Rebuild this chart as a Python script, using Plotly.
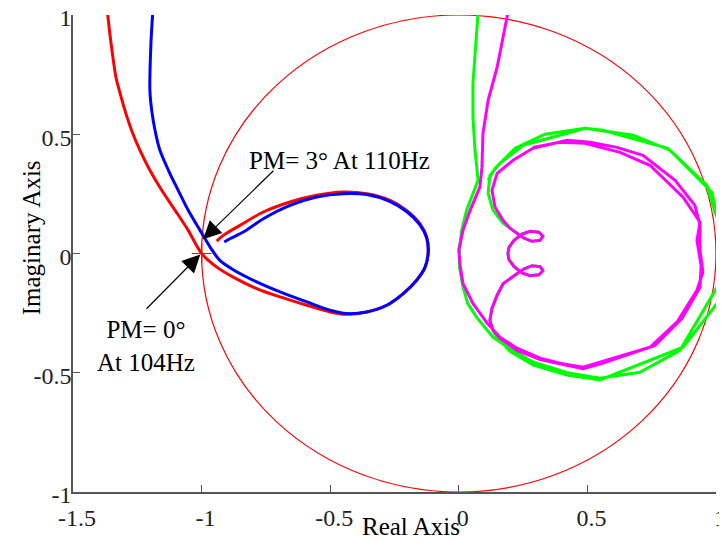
import plotly.graph_objects as go

# ---------------- data ----------------
red_re = [-1.366, -1.352, -1.333, -1.320, -1.298, -1.272, -1.240, -1.201, -1.155, -1.103,
          -1.052, -1.000, -0.941, -0.877, -0.786, -0.695, -0.591, -0.501, -0.436, -0.358,
          -0.280, -0.216, -0.164, -0.131, -0.119, -0.125, -0.151, -0.203, -0.267, -0.358,
          -0.449, -0.553, -0.656, -0.760, -0.851, -0.916, -0.941]
red_im = [1.01, 0.880, 0.739, 0.684, 0.600, 0.516, 0.433, 0.349, 0.265, 0.181,
          0.097, 0.000, -0.057, -0.099, -0.147, -0.182, -0.217, -0.245, -0.255, -0.245,
          -0.217, -0.168, -0.112, -0.057, 0.006, 0.069, 0.125, 0.181, 0.223, 0.251,
          0.258, 0.244, 0.216, 0.174, 0.118, 0.076, 0.052]

blue_re = [-1.190, -1.197, -1.201, -1.194, -1.181, -1.162, -1.129, -1.091, -1.052, -1.006,
           -0.967, -0.929, -0.877, -0.786, -0.695, -0.591, -0.501, -0.436, -0.358, -0.280,
           -0.216, -0.164, -0.131, -0.119, -0.125, -0.151, -0.203, -0.267, -0.358, -0.449,
           -0.553, -0.656, -0.760, -0.838, -0.890, -0.912]
blue_im = [1.01, 0.880, 0.684, 0.600, 0.516, 0.433, 0.349, 0.265, 0.181, 0.097,
           0.027, -0.029, -0.068, -0.119, -0.161, -0.203, -0.238, -0.252, -0.245, -0.217,
           -0.168, -0.112, -0.057, 0.003, 0.066, 0.120, 0.176, 0.218, 0.247, 0.251,
           0.237, 0.202, 0.146, 0.090, 0.062, 0.048]

loops_re = [0.199, 0.226, 0.254, 0.285, 0.316, 0.327, 0.312, 0.277, 0.246, 0.215, 0.195, 0.191,
            0.195, 0.215, 0.246, 0.277, 0.312, 0.327, 0.316, 0.285, 0.254, 0.226, 0.199, 0.172,
            0.149, 0.129, 0.121, 0.133]
loops_im = [0.106, 0.085, 0.064, 0.051, 0.055, 0.072, 0.089, 0.093, 0.081, 0.055, 0.026, 0.000,
            -0.026, -0.055, -0.081, -0.093, -0.089, -0.072, -0.055, -0.051, -0.064, -0.085, -0.106, -0.127,
            -0.175, -0.230, -0.280, -0.322]

green_re = ([0.075, 0.063, 0.055, 0.055, 0.063, 0.075,
             0.055, 0.030, 0.012, 0.002, 0.003, 0.016, 0.035, 0.071, 0.133, 0.199, 0.288, 0.421, 0.549,
             0.704, 0.860, 1.004, 1.060,
             1.004, 0.984, 0.821, 0.678, 0.491, 0.393, 0.250, 0.160, 0.121, 0.114, 0.133, 0.172]
            + loops_re +
            [0.149, 0.199, 0.290, 0.421, 0.549, 0.771, 0.872, 1.004, 1.060,
             0.996, 0.965, 0.813, 0.561, 0.491, 0.335, 0.219, 0.141, 0.114])
green_im = ([1.01, 0.852, 0.714, 0.571, 0.433, 0.307,
             0.252, 0.180, 0.100, 0.020, -0.060, -0.140, -0.210, -0.270, -0.351, -0.400, -0.455, -0.500, -0.523,
             -0.498, -0.406, -0.142, 0.000,
             0.160, 0.257, 0.433, 0.496, 0.525, 0.496, 0.454, 0.378, 0.328, 0.252, 0.181, 0.127]
            + loops_im +
            [-0.351, -0.410, -0.468, -0.510, -0.530, -0.435, -0.393, -0.209, 0.000,
             0.173, 0.286, 0.441, 0.517, 0.525, 0.500, 0.441, 0.357, 0.307])

magenta_re = ([0.191, 0.149, 0.114, 0.094, 0.090, 0.082,
               0.044, 0.016, 0.000, 0.005, 0.016, 0.055, 0.110, 0.160, 0.226, 0.316, 0.393, 0.483,
               0.549, 0.743, 0.848, 0.926, 0.949, 0.938, 0.938, 0.918, 0.841, 0.716, 0.615, 0.510,
               0.421, 0.288, 0.211, 0.149, 0.129, 0.141, 0.172]
              + loops_re +
              [0.160, 0.226, 0.316, 0.483, 0.549, 0.763, 0.868, 0.938, 0.942, 0.926, 0.938, 0.872,
               0.743, 0.627, 0.491, 0.393, 0.288])
magenta_im = ([1.01, 0.781, 0.642, 0.504, 0.362, 0.278,
               0.181, 0.097, 0.013, -0.050, -0.125, -0.209, -0.292, -0.351, -0.397, -0.439, -0.460, -0.477,
               -0.456, -0.393, -0.288, -0.154, -0.079, 0.013, 0.118, 0.202, 0.307, 0.412, 0.445, 0.466,
               0.475, 0.441, 0.391, 0.336, 0.265, 0.194, 0.139]
              + loops_im +
              [-0.355, -0.406, -0.445, -0.483, -0.464, -0.385, -0.272, -0.142, -0.050, 0.055, 0.131, 0.236,
               0.370, 0.424, 0.462, 0.466, 0.445])

critical_re = [-1.0]
critical_im = [0.0]

x_ticks = [-1.5, -1, -0.5, 0, 0.5, 1]
x_labels = ["-1.5", "-1", "-0.5", "0", "0.5", "1"]
y_ticks = [-1, -0.5, 0, 0.5, 1]
y_labels = ["-1", "-0.5", "0", "0.5", "1"]

FONT = "Liberation Serif, Times New Roman, serif"

fig = go.Figure()
fig.add_trace(go.Scatter(x=green_re, y=green_im, mode="lines",
                         line=dict(color="#00FF00", width=3), hoverinfo="skip"))
fig.add_trace(go.Scatter(x=magenta_re, y=magenta_im, mode="lines",
                         line=dict(color="#FF00FF", width=3), hoverinfo="skip"))
fig.add_trace(go.Scatter(x=red_re, y=red_im, mode="lines",
                         line=dict(color="#FF0000", width=3, shape="spline", smoothing=0.8),
                         hoverinfo="skip"))
fig.add_trace(go.Scatter(x=blue_re, y=blue_im, mode="lines",
                         line=dict(color="#0000FF", width=3, shape="spline", smoothing=0.8),
                         hoverinfo="skip"))
fig.add_trace(go.Scatter(x=critical_re, y=critical_im, mode="markers",
                         marker=dict(symbol="cross-thin", size=14,
                                     line=dict(color="#FF0000", width=1.2)),
                         hoverinfo="skip"))

# unit circle
fig.add_shape(type="circle", xref="x", yref="y", x0=-1, x1=1, y0=-1, y1=1,
              line=dict(color="#FF0000", width=1.2), layer="below")

# annotations with arrows
fig.add_annotation(x=-0.994, y=0.060, ax=-0.715, ay=0.353, xref="x", yref="y",
                   axref="x", ayref="y", text="", showarrow=True,
                   arrowhead=2, arrowsize=3.0, arrowwidth=1.2, arrowcolor="black")
fig.add_annotation(x=-1.005, y=-0.004, ax=-1.220, ay=-0.238, xref="x", yref="y",
                   axref="x", ayref="y", text="", showarrow=True,
                   arrowhead=2, arrowsize=3.0, arrowwidth=1.2, arrowcolor="black")
fig.add_annotation(x=-0.822, y=0.391, xref="x", yref="y", text="PM= 3° At 110Hz",
                   showarrow=False, xanchor="left", yanchor="middle",
                   font=dict(family=FONT, size=25, color="black"))
fig.add_annotation(x=-1.218, y=-0.387, xref="x", yref="y", text="PM= 0°<br>At 104Hz",
                   showarrow=False, xanchor="center", yanchor="middle", align="center",
                   font=dict(family=FONT, size=25, color="black"))

# axis titles
fig.add_annotation(x=0.526, y=-0.073, xref="paper", yref="paper", text="Real Axis",
                   showarrow=False, xanchor="center", yanchor="middle",
                   font=dict(family=FONT, size=25, color="black"))
fig.add_annotation(x=-0.0653, y=0.532, xref="paper", yref="paper", text="Imaginary Axis",
                   showarrow=False, xanchor="center", yanchor="middle", textangle=-90,
                   font=dict(family=FONT, size=25, color="black"))

axis_common = dict(showgrid=False, zeroline=False, showline=True, linecolor="#555555",
                   linewidth=1.5, ticks="inside", ticklen=7, tickcolor="#555555",
                   tickwidth=1.2, automargin=False, ticklabeloverflow="allow",
                   tickfont=dict(family=FONT, size=24, color="#222222"))

fig.update_xaxes(range=[-1.5, 1], tickvals=x_ticks, ticktext=x_labels,
                 ticklabelstandoff=3, ticklabelshift=4, **axis_common)
fig.update_yaxes(range=[-1, 1], tickvals=y_ticks, ticktext=y_labels,
                 ticklabelstandoff=-5, ticklabelshift=3, **axis_common)

# page body has an 8 px margin, so the figure is 8 px smaller on each side
fig.update_layout(width=719, height=532, margin=dict(l=65, r=11, t=7, b=48),
                  plot_bgcolor="white", paper_bgcolor="white", showlegend=False)

fig.write_html("out.html")
